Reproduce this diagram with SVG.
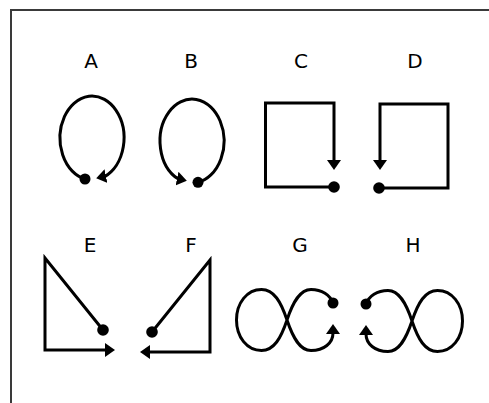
<svg xmlns="http://www.w3.org/2000/svg" width="489" height="403" viewBox="0 0 489 403">
<style>
.ln{fill:none;stroke:#000;stroke-width:3;stroke-linejoin:miter;marker-end:url(#ah)}
.dot{fill:#000}
.lbl{font-family:"DejaVu Sans","Liberation Sans",sans-serif;font-size:20px;fill:#000;text-anchor:middle}
.frame{fill:none;stroke:#3a3a3a;stroke-width:2}
</style>
<defs>
<marker id="ah" markerUnits="userSpaceOnUse" markerWidth="10" markerHeight="14" viewBox="0 0 10 14" refX="1" refY="7" orient="auto">
<path d="M0,0 L10,7 L0,14 z" fill="#000"/>
</marker>
<marker id="ahL" markerUnits="userSpaceOnUse" markerWidth="10" markerHeight="14" viewBox="0 0 10 14" refX="1" refY="7" orient="168">
<path d="M0,0 L10,7 L0,14 z" fill="#000"/>
</marker>
<marker id="ahR" markerUnits="userSpaceOnUse" markerWidth="10" markerHeight="14" viewBox="0 0 10 14" refX="1" refY="7" orient="12">
<path d="M0,0 L10,7 L0,14 z" fill="#000"/>
</marker>
</defs>
<rect width="489" height="403" fill="#fff"/>
<path class="frame" d="M11 403 V10 H489"/>
<g id="fig-A">
<text class="lbl" x="91" y="68">A</text>
<path class="ln" style="marker-end:url(#ahL)" d="M85 179 A32 42 0 1 1 105 176.4"/>
<circle class="dot" cx="85" cy="179" r="5.5"/>
</g>
<g id="fig-B">
<text class="lbl" x="191" y="68">B</text>
<path class="ln" style="marker-end:url(#ahR)" d="M198 182.3 A32 42 0 1 0 178 178.8"/>
<circle class="dot" cx="198" cy="182.3" r="5.5"/>
</g>
<g id="fig-C">
<text class="lbl" x="301" y="68">C</text>
<path class="ln" d="M334 187 H265.5 V103 H334 V161"/>
<circle class="dot" cx="334" cy="187" r="5.8"/>
</g>
<g id="fig-D">
<text class="lbl" x="415" y="68">D</text>
<path class="ln" d="M379 188 H448 V104 H380 V161"/>
<circle class="dot" cx="379" cy="188" r="5.8"/>
</g>
<g id="fig-E">
<text class="lbl" x="90" y="252">E</text>
<path class="ln" d="M103 330 L45 258 V350 H106"/>
<circle class="dot" cx="103" cy="330" r="5.8"/>
</g>
<g id="fig-F">
<text class="lbl" x="191" y="252">F</text>
<path class="ln" d="M152 332 L210 260 V352 H149"/>
<circle class="dot" cx="152" cy="332" r="5.8"/>
</g>
<g id="fig-G">
<text class="lbl" x="300" y="252">G</text>
<path class="ln" d="M333 303 C330 295 322 289.5 311 289.5 C300 289.5 293 302 287 320 C281 338 274 350.5 261.5 350.5 C247 350.5 236.5 337 236.5 320 C236.5 303 247 289.5 261.5 289.5 C274 289.5 281 302 287 320 C293 338 300 350.5 311 350.5 C324 350.5 333 343 333 333"/>
<circle class="dot" cx="333" cy="303" r="5.5"/>
</g>
<g id="fig-H">
<text class="lbl" x="413" y="252">H</text>
<g transform="translate(699,1) scale(-1,1)">
<path class="ln" d="M333 303 C330 295 322 289.5 311 289.5 C300 289.5 293 302 287 320 C281 338 274 350.5 261.5 350.5 C247 350.5 236.5 337 236.5 320 C236.5 303 247 289.5 261.5 289.5 C274 289.5 281 302 287 320 C293 338 300 350.5 311 350.5 C324 350.5 333 343 333 333"/>
<circle class="dot" cx="333" cy="303" r="5.5"/>
</g>
</g>
</svg>
